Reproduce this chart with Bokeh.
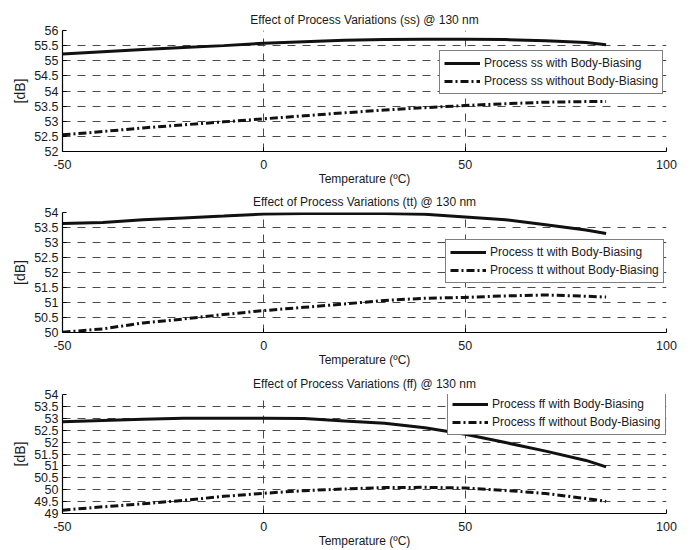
from bokeh.plotting import figure
from bokeh.layouts import column
from bokeh.models import FixedTicker, Legend, LegendItem, Range1d
from bokeh.embed import file_html
from bokeh.resources import INLINE

# Temperature sweep (ºC)
temperature = [-50, -40, -30, -20, -10, 0, 10, 20, 30, 40, 50, 60, 70, 80, 85]

# Process ss
ss_with_bb = [55.22, 55.30, 55.37, 55.44, 55.50, 55.58, 55.63, 55.68, 55.70, 55.71, 55.71, 55.70, 55.66, 55.60, 55.53]
ss_without_bb = [52.55, 52.66, 52.78, 52.88, 52.98, 53.08, 53.18, 53.28, 53.37, 53.45, 53.52, 53.58, 53.63, 53.65, 53.65]

# Process tt
tt_with_bb = [53.63, 53.67, 53.76, 53.82, 53.88, 53.95, 53.97, 53.97, 53.97, 53.94, 53.85, 53.76, 53.59, 53.42, 53.30]
tt_without_bb = [50.01, 50.12, 50.32, 50.45, 50.60, 50.73, 50.84, 50.95, 51.07, 51.14, 51.17, 51.22, 51.25, 51.21, 51.18]

# Process ff
ff_with_bb = [52.86, 52.91, 52.96, 53.00, 53.00, 53.00, 52.99, 52.89, 52.79, 52.60, 52.33, 51.98, 51.62, 51.23, 50.96]
ff_without_bb = [49.14, 49.28, 49.41, 49.55, 49.72, 49.85, 49.96, 50.03, 50.09, 50.10, 50.07, 49.97, 49.84, 49.63, 49.51]

x_ticks = [-50, 0, 50, 100]
y_ticks_ss = [52, 52.5, 53, 53.5, 54, 54.5, 55, 55.5, 56]
y_ticks_tt = [50, 50.5, 51, 51.5, 52, 52.5, 53, 53.5, 54]
y_ticks_ff = [49, 49.5, 50, 50.5, 51, 51.5, 52, 52.5, 53, 53.5, 54]

FONT = "Liberation Sans"
W = 694
FRAME_W = 604


def fmt(v):
    return ("%g" % v)


def make_panel(title, proc, y_with, y_without, y_ticks, height, top, bottom, legend_xy):
    p = figure(width=W, height=height, output_backend="svg", toolbar_location=None,
               x_range=Range1d(-50, 100), y_range=Range1d(y_ticks[0], y_ticks[-1]),
               min_border_left=62, min_border_right=W - 62 - FRAME_W,
               min_border_top=top, min_border_bottom=bottom)
    p.outline_line_color = None
    p.background_fill_color = "white"

    p.title.text = title
    p.title.align = "center"
    p.title.text_font = FONT
    p.title.text_font_size = "12px"
    p.title.text_font_style = "normal"
    p.title.text_color = "#1a1a1a"
    p.title.standoff = 7

    p.xaxis.ticker = FixedTicker(ticks=x_ticks)
    p.yaxis.ticker = FixedTicker(ticks=y_ticks)
    p.xaxis.major_label_overrides = {t: fmt(t) for t in x_ticks}
    p.yaxis.major_label_overrides = {t: fmt(t) for t in y_ticks}

    for ax in (p.xaxis, p.yaxis):
        ax.axis_line_color = "black"
        ax.axis_line_width = 1.2
        ax.major_tick_in = 4
        ax.major_tick_out = 0
        ax.minor_tick_line_color = None
        ax.major_tick_line_color = "black"
        ax.major_label_text_font = FONT
        ax.major_label_text_font_size = "12.5px"
        ax.major_label_text_color = "#1a1a1a"
        ax.axis_label_text_font = FONT
        ax.axis_label_text_font_style = "normal"
        ax.axis_label_text_color = "#1a1a1a"
    p.xaxis.axis_label = "Temperature (ºC)"
    p.yaxis.axis_label = "[dB]"
    p.xaxis.axis_label_text_font_size = "12px"
    p.yaxis.axis_label_text_font_size = "14px"
    p.xaxis.major_label_standoff = 8
    p.xaxis.axis_label_standoff = 0
    p.yaxis.major_label_standoff = 4
    p.yaxis.axis_label_standoff = 3

    p.grid.grid_line_color = "#4a4a4a"
    p.grid.grid_line_width = 1
    p.grid.grid_line_dash = "8 7"

    r1 = p.line(temperature, y_with, line_color="#111111", line_width=3)
    r2 = p.line(temperature, y_without, line_color="#111111", line_width=3,
                line_dash="8 3 2 3")

    legend = Legend(items=[
        LegendItem(label="Process %s with Body-Biasing" % proc, renderers=[r1]),
        LegendItem(label="Process %s without Body-Biasing" % proc, renderers=[r2]),
    ], location=legend_xy)
    legend.border_line_color = "black"
    legend.border_line_width = 1
    legend.background_fill_color = "white"
    legend.background_fill_alpha = 1
    legend.label_text_font = FONT
    legend.label_text_font_size = "12px"
    legend.label_text_color = "#1a1a1a"
    legend.glyph_width = 36
    legend.glyph_height = 16
    legend.label_height = 16
    legend.label_standoff = 4
    legend.padding = 4
    legend.spacing = 2
    legend.margin = 0
    p.add_layout(legend, "center")
    return p


p1 = make_panel("Effect of Process Variations (ss) @ 130 nm", "ss", ss_with_bb, ss_without_bb,
                y_ticks_ss, 188, 30, 36, (377, 57))
p2 = make_panel("Effect of Process Variations (tt) @ 130 nm", "tt", tt_with_bb, tt_without_bb,
                y_ticks_tt, 181, 24, 36, (383, 49))
p3 = make_panel("Effect of Process Variations (ff) @ 130 nm", "ff", ff_with_bb, ff_without_bb,
                y_ticks_ff, 181, 25, 35, (385, 78))

layout = column(p1, p2, p3, spacing=0)
open("out.html", "w").write(file_html(layout, INLINE))
